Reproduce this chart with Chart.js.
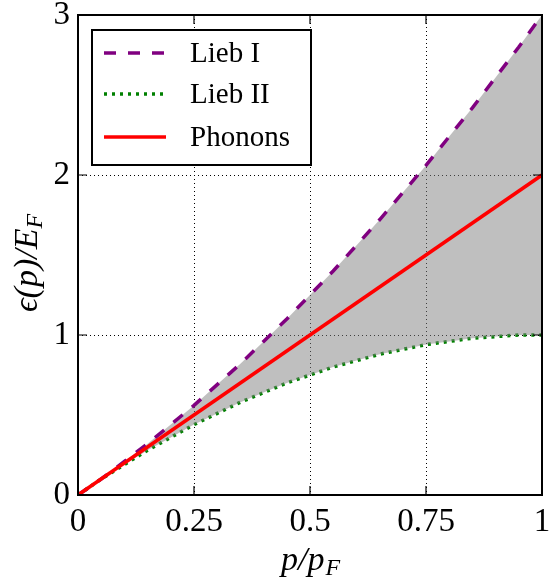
<!DOCTYPE html>
<html>
<head>
<meta charset="utf-8">
<script src="https://cdn.jsdelivr.net/npm/chart.js@4/dist/chart.umd.min.js"></script>
</head>
<body style="margin:0">
<canvas id="dispersionChart" width="550" height="584"></canvas>
<script>
// Values
const momentum = [0, 0.05, 0.1, 0.15, 0.2, 0.25, 0.3, 0.35, 0.4, 0.45, 0.5,
    0.55, 0.6, 0.65, 0.7, 0.75, 0.8, 0.85, 0.9, 0.95, 1];
const liebOne = [0, 0.10, 0.21, 0.32, 0.44, 0.56, 0.69, 0.82, 0.96, 1.10, 1.25,
    1.40, 1.56, 1.72, 1.89, 2.06, 2.24, 2.42, 2.61, 2.80, 3];
const liebTwo = [0, 0.10, 0.19, 0.28, 0.36, 0.44, 0.51, 0.58, 0.64, 0.70, 0.75,
    0.80, 0.84, 0.88, 0.91, 0.94, 0.96, 0.98, 0.99, 1.00, 1];
const phononMomentum = [0, 1];
const phononEnergy = [0, 2];

const xTicks = [0, 0.25, 0.5, 0.75, 1];
const yTicks = [0, 1, 2, 3];
const legendLabels = ['Lieb I', 'Lieb II', 'Phonons'];

const fontName = 'Liberation Serif';

// Touch the serif face once before the chart draws, so it is resolved in time
const warm = document.createElement('canvas').getContext('2d');
warm.font = '28px "Liberation Serif"';
warm.fillText('Phonons 0.25', 0, 20);
warm.font = 'italic 28px "Liberation Serif"';
warm.fillText('p/pE', 0, 20);

function toPoints(xs, ys) {
    return xs.map((x, i) => ({ x: x, y: ys[i] }));
}

// Frame, inward ticks, axis titles and the legend box
const decorations = {
    id: 'decorations',
    afterDraw: function (chart) {
        const ctx = chart.ctx;
        const area = chart.chartArea;
        const xs = chart.scales.x;
        const ys = chart.scales.y;
        const tickLen = 9;

        ctx.save();
        ctx.strokeStyle = '#000';
        ctx.lineWidth = 1.2;
        ctx.beginPath();
        xTicks.forEach(v => {
            const px = xs.getPixelForValue(v);
            ctx.moveTo(px, area.bottom);
            ctx.lineTo(px, area.bottom - tickLen);
            ctx.moveTo(px, area.top);
            ctx.lineTo(px, area.top + tickLen);
        });
        yTicks.forEach(v => {
            const py = ys.getPixelForValue(v);
            ctx.moveTo(area.left, py);
            ctx.lineTo(area.left + tickLen, py);
            ctx.moveTo(area.right, py);
            ctx.lineTo(area.right - tickLen, py);
        });
        ctx.stroke();

        ctx.lineWidth = 2;
        ctx.strokeRect(area.left, area.top, area.right - area.left, area.bottom - area.top);

        // x axis title: p/p_F
        ctx.fillStyle = '#000';
        ctx.textBaseline = 'alphabetic';
        const bigFont = 'italic 34px "Liberation Serif"';
        const subFont = 'italic 24px "Liberation Serif"';
        const xMain = 'p/p';
        ctx.font = bigFont;
        const wMain = ctx.measureText(xMain).width;
        ctx.font = subFont;
        const wSub = ctx.measureText('F').width;
        let startX = (area.left + area.right) / 2 - (wMain + wSub) / 2;
        ctx.font = bigFont;
        ctx.fillText(xMain, startX, 570);
        ctx.font = subFont;
        ctx.fillText('F', startX + wMain + 1, 575);

        // y axis title: ϵ(p)/E_F
        ctx.translate(37, 263);
        ctx.rotate(-Math.PI / 2);
        ctx.font = bigFont;
        const yMain = '\u03f5(p)/E';
        const wyMain = ctx.measureText(yMain).width;
        ctx.font = subFont;
        const wySub = ctx.measureText('F').width;
        startX = -(wyMain + wySub) / 2;
        ctx.font = bigFont;
        ctx.fillText(yMain, startX, 0);
        ctx.font = subFont;
        ctx.fillText('F', startX + wyMain, 5);
        ctx.setTransform(1, 0, 0, 1, 0, 0);

        // legend
        const box = { left: 92, top: 30, width: 219, height: 135 };
        ctx.fillStyle = '#fff';
        ctx.fillRect(box.left, box.top, box.width, box.height);
        ctx.lineWidth = 2;
        ctx.strokeStyle = '#000';
        ctx.strokeRect(box.left, box.top, box.width, box.height);

        const rows = [53, 94, 137];
        chart.data.datasets.forEach((ds, i) => {
            ctx.beginPath();
            ctx.strokeStyle = ds.borderColor;
            ctx.lineWidth = ds.borderWidth;
            ctx.setLineDash(ds.borderDash || []);
            ctx.moveTo(104, rows[i]);
            ctx.lineTo(166, rows[i]);
            ctx.stroke();
            ctx.setLineDash([]);
            ctx.fillStyle = '#000';
            ctx.font = '29px "Liberation Serif"';
            ctx.textBaseline = 'middle';
            ctx.fillText(legendLabels[i], 190, rows[i] + 1);
        });
        ctx.restore();
    }
};

const chart = new Chart(document.getElementById('dispersionChart'), {
    type: 'line',
    data: {
        datasets: [
            {
                label: legendLabels[0],
                data: toPoints(momentum, liebOne),
                borderColor: '#800080',
                borderWidth: 3.5,
                borderDash: [12, 12],
                backgroundColor: 'rgba(128, 128, 128, 0.5)',
                fill: 1,
                pointRadius: 0,
                order: 1
            },
            {
                label: legendLabels[1],
                data: toPoints(momentum, liebTwo),
                borderColor: '#008000',
                borderWidth: 3.5,
                borderDash: [3, 5],
                fill: false,
                pointRadius: 0,
                order: 2
            },
            {
                label: legendLabels[2],
                data: toPoints(phononMomentum, phononEnergy),
                borderColor: '#ff0000',
                borderWidth: 3.5,
                fill: false,
                pointRadius: 0,
                order: 0
            }
        ]
    },
    options: {
        responsive: false,
        animation: false,
        layout: { padding: { top: 15, right: 8, left: 0, bottom: 0 } },
        plugins: {
            legend: { display: false },
            tooltip: { enabled: false }
        },
        scales: {
            x: {
                type: 'linear',
                min: 0,
                max: 1,
                afterBuildTicks: scale => { scale.ticks = xTicks.map(v => ({ value: v })); },
                afterFit: scale => {
                    scale.height = 89;
                    scale.paddingLeft = 0;
                    scale.paddingRight = 0;
                },
                ticks: {
                    color: '#000',
                    padding: 8,
                    maxRotation: 0,
                    font: { family: fontName, size: 33 },
                    callback: v => String(v)
                },
                grid: { color: '#000', lineWidth: 1, drawTicks: false },
                border: { display: false, dash: [1, 3] }
            },
            y: {
                type: 'linear',
                min: 0,
                max: 3,
                afterBuildTicks: scale => { scale.ticks = yTicks.map(v => ({ value: v })); },
                afterFit: scale => {
                    scale.width = 78;
                    scale.paddingTop = 0;
                    scale.paddingBottom = 0;
                },
                ticks: {
                    color: '#000',
                    padding: 8,
                    font: { family: fontName, size: 33 },
                    callback: v => String(v)
                },
                grid: { color: '#000', lineWidth: 1, drawTicks: false },
                border: { display: false, dash: [1, 3] }
            }
        }
    },
    plugins: [decorations]
});

// Redraw once fonts have settled
setTimeout(() => chart.update('none'), 100);
if (document.fonts && document.fonts.ready) {
    document.fonts.ready.then(() => chart.update('none'));
}
</script>
</body>
</html>
